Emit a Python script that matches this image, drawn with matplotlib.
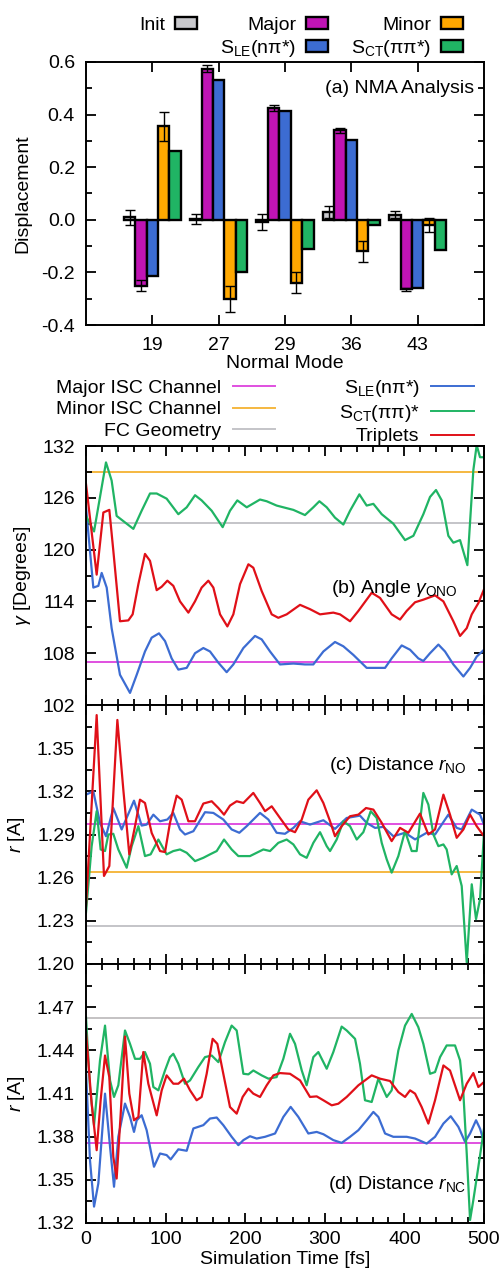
import numpy as np
import matplotlib as mpl
mpl.use('Agg')
from matplotlib import pyplot as plt
from matplotlib.patches import Patch
from matplotlib.lines import Line2D
from matplotlib.ticker import MultipleLocator

plt.rcParams['font.family'] = ['Liberation Sans', 'DejaVu Sans']
plt.rcParams['mathtext.fontset'] = 'custom'
plt.rcParams['mathtext.rm'] = 'Liberation Sans'
plt.rcParams['mathtext.it'] = 'Liberation Sans:italic'
plt.rcParams['font.size'] = 14
plt.rcParams['axes.unicode_minus'] = False

# ---- (a) NMA data
modes = ['19', '27', '29', '36', '43']
init_disp = [0.01, 0.003, -0.007, 0.03, 0.02]
init_err = [0.028, 0.02, 0.03, 0.024, 0.013]
major_disp = [-0.25, 0.575, 0.425, 0.34, -0.265]
major_err = [0.022, 0.012, 0.01, 0.01, 0.005]
sle_disp = [-0.215, 0.53, 0.415, 0.305, -0.26]
minor_disp = [0.355, -0.30, -0.24, -0.12, -0.02]
minor_err = [0.055, 0.05, 0.04, 0.04, 0.025]
sct_disp = [0.26, -0.20, -0.11, -0.02, -0.115]

# ---- (b) angle gamma_ONO
t_b_sle = [0, 9.2, 15.5, 19.7, 26.0, 32.2, 42.7, 55.3, 63.7, 74.1, 82.5, 91.7, 99.3, 107.6, 116.0, 126.5,
           137.0, 147.4, 155.8, 166.3, 176.7, 185.1, 197.7, 212.3, 220.7, 231.2, 243.7, 260.5, 275.1, 285.6,
           298.2, 312.8, 323.3, 335.9, 352.6, 365.2, 375.7, 384.0, 396.6, 407.1, 417.5, 423.8, 432.2, 442.7,
           451.0, 461.5, 474.1, 482.5, 490.8, 500]
ang_sle = [124.9, 115.6, 115.8, 117.3, 115.6, 110.9, 105.5, 103.4, 105.5, 108.2, 109.8, 110.3, 109.4, 107.4,
           106.1, 106.3, 108.0, 108.6, 108.2, 106.9, 105.8, 106.7, 108.6, 110.0, 109.6, 108.2, 106.7, 106.8,
           106.7, 106.7, 108.2, 109.3, 108.8, 107.8, 106.3, 106.3, 106.3, 107.4, 108.9, 108.4, 107.4, 107.1,
           108.0, 109.0, 108.2, 106.7, 105.3, 106.3, 107.6, 108.4]
t_b_sct = [0, 10.1, 25.1, 32.2, 38.5, 46.9, 59.5, 69.9, 80.4, 88.8, 101.3, 116.0, 126.5, 137.0, 145.3, 157.9,
           171.7, 180.9, 190.1, 201.9, 218.6, 227.0, 239.5, 260.5, 275.1, 285.6, 293.2, 302.4, 312.8, 323.3,
           331.7, 343.4, 352.6, 361.0, 371.5, 386.1, 400.8, 411.3, 423.8, 432.2, 439.7, 446.9, 455.2, 461.5,
           469.9, 479.1, 486.6, 490.8, 495.0, 500]
ang_sct = [123.9, 122.1, 130.1, 128.0, 123.9, 123.3, 122.4, 124.5, 126.5, 126.5, 125.9, 124.1, 124.9, 126.3,
           125.7, 124.5, 122.6, 124.5, 125.7, 124.9, 125.8, 125.6, 125.1, 124.6, 124.0, 124.9, 125.6, 124.9,
           123.7, 122.9, 124.5, 126.4, 125.1, 125.3, 124.1, 123.0, 121.1, 121.6, 124.1, 126.1, 126.9, 125.7,
           121.6, 120.8, 121.1, 118.2, 129.2, 132.1, 130.7, 130.7]
t_b_trip = [0, 13.4, 21.8, 29.3, 34.3, 42.7, 53.2, 58.6, 65.8, 74.1, 80.4, 88.8, 95.1, 102.2, 109.7, 118.1,
            128.6, 136.9, 145.3, 153.7, 160.0, 168.4, 177.6, 185.1, 193.5, 204.0, 210.2, 220.7, 233.3, 241.6,
            252.1, 268.9, 281.4, 294.0, 310.7, 319.1, 331.7, 342.2, 358.9, 369.4, 384.0, 394.5, 402.9, 413.4,
            423.8, 438.5, 449.0, 461.5, 469.9, 478.3, 484.6, 492.9, 500]
ang_trip = [127.6, 117.1, 124.3, 124.6, 119.9, 111.7, 111.8, 112.5, 116.0, 119.5, 118.7, 115.3, 115.7, 116.4,
            115.8, 114.0, 112.7, 114.0, 115.6, 116.4, 115.6, 112.5, 111.1, 112.5, 116.0, 118.3, 117.9, 115.2,
            112.5, 112.1, 112.5, 113.6, 113.1, 112.5, 112.7, 112.5, 111.7, 112.9, 115.0, 114.4, 112.5, 111.9,
            112.9, 113.9, 114.2, 114.7, 114.0, 111.7, 110.0, 110.9, 112.5, 113.8, 115.4]

# ---- (c) distance r_NO
t_c_sle = [0, 9.2, 17.6, 25.1, 34.3, 44.8, 60.3, 69.9, 76.2, 84.6, 93.0, 102.2, 109.7, 118.1, 124.4, 134.9,
           149.5, 160.0, 172.5, 183.0, 192.6, 201.9, 218.6, 229.1, 239.5, 250.0, 260.5, 268.9, 281.4, 298.2,
           312.8, 327.5, 344.2, 352.6, 363.1, 373.6, 386.1, 400.8, 413.4, 428.0, 438.5, 455.2, 465.7, 472.0,
           484.6, 495.0, 500]
rno_sle = [1.3177, 1.3200, 1.2981, 1.2888, 1.3084, 1.2935, 1.3135, 1.2962, 1.2969, 1.3038, 1.2992, 1.3004,
           1.3050, 1.2935, 1.2900, 1.2923, 1.3055, 1.3050, 1.3004, 1.2935, 1.2912, 1.2958, 1.3050, 1.3004,
           1.2912, 1.2905, 1.2946, 1.2992, 1.2969, 1.2999, 1.2939, 1.3015, 1.3031, 1.2981, 1.2946, 1.2953,
           1.2888, 1.2912, 1.2866, 1.2912, 1.2900, 1.3038, 1.2946, 1.2935, 1.3073, 1.3038, 1.2969]
t_c_sct = [0, 7.1, 13.4, 18.4, 23.9, 28.1, 34.3, 40.6, 51.1, 57.4, 65.8, 74.1, 81.2, 90.9, 101.3, 109.7, 118.1,
           126.5, 137.0, 147.4, 155.8, 164.2, 173.4, 183.0, 191.4, 206.0, 214.4, 222.8, 231.2, 241.6, 252.1,
           260.5, 268.9, 277.2, 285.6, 294.0, 302.4, 306.6, 314.9, 323.3, 331.7, 340.1, 348.4, 357.7, 365.2,
           371.5, 377.8, 384.0, 392.4, 400.8, 409.2, 415.4, 423.8, 430.1, 436.4, 442.7, 449.0, 453.1, 459.4,
           465.7, 472.0, 478.3, 484.6, 490.0, 495.0, 500]
rno_sct = [1.2358, 1.2819, 1.3062, 1.2796, 1.2785, 1.2900, 1.2905, 1.2796, 1.2669, 1.2819, 1.2958, 1.2750,
           1.2762, 1.2865, 1.2762, 1.2785, 1.2796, 1.2773, 1.2715, 1.2738, 1.2762, 1.2785, 1.2865, 1.2796,
           1.2750, 1.2750, 1.2773, 1.2796, 1.2785, 1.2842, 1.2865, 1.2831, 1.2762, 1.2738, 1.2842, 1.2916,
           1.2819, 1.2785, 1.2865, 1.2992, 1.2958, 1.2865, 1.2916, 1.3062, 1.3015, 1.2842, 1.2727, 1.2635,
           1.2750, 1.2923, 1.2785, 1.2785, 1.3189, 1.3108, 1.2900, 1.2819, 1.2831, 1.2796, 1.2623, 1.2681,
           1.2542, 1.2011, 1.2554, 1.2312, 1.2450, 1.2912]
t_c_trip = [0, 13.4, 22.6, 29.3, 39.4, 46.9, 54.4, 61.6, 67.8, 74.1, 82.5, 93.0, 99.3, 105.5, 113.9, 120.2,
            128.6, 136.9, 147.4, 157.9, 166.3, 173.4, 180.9, 189.3, 197.7, 210.2, 218.6, 224.9, 233.3, 243.7,
            254.2, 262.6, 271.0, 279.3, 289.8, 298.2, 306.6, 312.8, 321.2, 331.7, 342.2, 351.8, 361.0, 371.5,
            384.0, 394.5, 405.0, 419.6, 430.1, 438.5, 449.0, 457.3, 465.7, 474.1, 482.5, 490.8, 500]
rno_trip = [1.2404, 1.3730, 1.2612, 1.2681, 1.3696, 1.3211, 1.2762, 1.2958, 1.3142, 1.3119, 1.2911, 1.2785,
            1.2778, 1.2981, 1.3170, 1.3142, 1.2992, 1.2992, 1.3115, 1.3131, 1.3084, 1.3038, 1.3101, 1.3131,
            1.3119, 1.3189, 1.3119, 1.3062, 1.3096, 1.3015, 1.2935, 1.2916, 1.3004, 1.3142, 1.3207, 1.3119,
            1.2992, 1.2888, 1.2958, 1.3027, 1.3038, 1.3084, 1.3073, 1.2981, 1.2854, 1.2946, 1.2912, 1.3045,
            1.2900, 1.2935, 1.3177, 1.3038, 1.2877, 1.2935, 1.3038, 1.2958, 1.2888]

# ---- (d) distance r_NC
t_d_sle = [0, 5.0, 10.1, 15.5, 23.9, 30.2, 35.2, 40.6, 49.0, 55.3, 60.3, 63.7, 69.9, 76.2, 85.4, 93.0, 101.3,
           106.4, 116.0, 126.5, 134.9, 147.4, 155.8, 164.2, 172.5, 183.0, 191.4, 197.7, 206.0, 214.4, 224.9,
           237.5, 247.9, 257.1, 266.8, 279.3, 289.8, 298.2, 310.7, 321.2, 331.7, 342.2, 352.6, 361.0, 367.3,
           375.7, 386.1, 402.9, 413.4, 428.0, 438.5, 449.0, 458.2, 467.8, 476.2, 482.5, 490.0, 495.0, 500]
rnc_sle = [1.4260, 1.3637, 1.3314, 1.3475, 1.4099, 1.3730, 1.3452, 1.3799, 1.4030, 1.3937, 1.3833, 1.3914,
           1.3949, 1.3845, 1.3591, 1.3683, 1.3672, 1.3642, 1.3712, 1.3702, 1.3857, 1.3880, 1.3926, 1.3933,
           1.3880, 1.3799, 1.3741, 1.3776, 1.3803, 1.3787, 1.3799, 1.3822, 1.3937, 1.4007, 1.3937, 1.3822,
           1.3833, 1.3817, 1.3776, 1.3757, 1.3799, 1.3845, 1.3914, 1.3972, 1.3937, 1.3822, 1.3799, 1.3799,
           1.3787, 1.3752, 1.3799, 1.3891, 1.3942, 1.3868, 1.3764, 1.3822, 1.3914, 1.3856, 1.3764]
t_d_sct = [0, 5.0, 10.1, 17.6, 23.9, 30.2, 35.2, 40.6, 49.0, 55.3, 61.6, 67.8, 74.1, 80.4, 84.6, 90.9, 99.3,
           105.5, 109.7, 116.0, 124.4, 130.7, 141.1, 149.5, 157.9, 166.3, 174.6, 183.0, 189.3, 197.7, 204.0,
           210.2, 220.7, 229.1, 239.5, 247.9, 256.3, 262.6, 271.0, 277.2, 285.6, 291.9, 302.4, 310.7, 321.2,
           327.5, 338.0, 344.2, 350.5, 358.9, 367.3, 377.8, 384.0, 392.4, 400.8, 409.2, 417.5, 423.8, 432.2,
           438.5, 444.8, 453.1, 463.6, 469.9, 474.1, 478.3, 482.5, 486.6, 492.9, 500]
rnc_sct = [1.4630, 1.4145, 1.3879, 1.4330, 1.4572, 1.4191, 1.4076, 1.4157, 1.4538, 1.4445, 1.4341, 1.4341,
           1.4388, 1.4307, 1.4145, 1.4122, 1.4261, 1.4353, 1.4376, 1.4307, 1.4168, 1.4191, 1.4284, 1.4353,
           1.4364, 1.4318, 1.4457, 1.4572, 1.4538, 1.4237, 1.4233, 1.4260, 1.4226, 1.4203, 1.4214, 1.4341,
           1.4515, 1.4445, 1.4261, 1.4157, 1.4353, 1.4388, 1.4272, 1.4388, 1.4565, 1.4538, 1.4480, 1.4307,
           1.4053, 1.4041, 1.4203, 1.4076, 1.4122, 1.4399, 1.4572, 1.4653, 1.4561, 1.4445, 1.4237, 1.4249,
           1.4353, 1.4434, 1.4434, 1.4330, 1.4099, 1.3683, 1.3221, 1.3359, 1.3590, 1.3856]
t_d_trip = [0, 7.1, 13.4, 18.4, 23.9, 29.3, 34.3, 38.5, 43.6, 49.0, 54.4, 60.3, 65.8, 72.0, 78.3, 88.8, 95.1,
            101.3, 109.7, 116.0, 123.1, 130.7, 139.0, 145.3, 151.6, 159.1, 165.0, 172.5, 180.9, 189.3, 196.8,
            204.0, 210.2, 218.6, 227.0, 235.4, 243.7, 256.3, 268.9, 281.4, 289.8, 298.2, 308.7, 317.0, 327.5,
            342.2, 358.9, 369.4, 381.9, 392.4, 400.8, 407.1, 413.4, 421.7, 430.1, 438.5, 449.0, 457.3, 469.9,
            478.3, 486.6, 492.9, 500]
rnc_trip = [1.4526, 1.4029, 1.3706, 1.4053, 1.4364, 1.4214, 1.3660, 1.3509, 1.3960, 1.4496, 1.4099, 1.3914,
            1.3937, 1.4388, 1.4168, 1.3948, 1.4122, 1.4226, 1.4168, 1.4168, 1.4203, 1.4122, 1.4053, 1.4076,
            1.4237, 1.4480, 1.4445, 1.4237, 1.4006, 1.3960, 1.4076, 1.4134, 1.4099, 1.4076, 1.4157, 1.4226,
            1.4242, 1.4237, 1.4191, 1.4076, 1.4080, 1.4053, 1.4018, 1.4029, 1.4076, 1.4157, 1.4226, 1.4203,
            1.4187, 1.4110, 1.4076, 1.4122, 1.4099, 1.4006, 1.3891, 1.4053, 1.4295, 1.4260, 1.4053, 1.4168,
            1.4242, 1.4145, 1.4180]

# reference geometries (major ISC, minor ISC, FC) per panel
ref_b = [107.0, 129.0, 123.1]
ref_c = [1.2975, 1.264, 1.2262]
ref_d = [1.3755, 1.4628, 1.4628]

c_init, c_major, c_sle, c_minor, c_sct = '#c8c8cc', '#c014b4', '#3c6cd2', '#ffa800', '#20b464'
c_trip = '#e01018'
l_major, l_minor, l_fc = '#e050e0', '#f5b840', '#c4c4c8'

fig = plt.figure(figsize=(5.01, 12.72), dpi=100)
W, H = 501., 1272.


def add_ax(top, bot):
    return fig.add_axes([86 / W, 1 - bot / H, 398 / W, (bot - top) / H])


def style(ax):
    for s in ax.spines.values():
        s.set_linewidth(1.4)
    ax.tick_params(which='both', direction='in', top=True, right=True, width=1.3)
    ax.tick_params(which='major', length=7.5)
    ax.tick_params(which='minor', length=4.5)
    ax.tick_params(axis='y', which='major', pad=8)


# ---- panel (a)
ax = add_ax(62, 325)
x = np.arange(1, len(modes) + 1)
w = 0.172
series = [(init_disp, c_init, init_err, 'Init'), (major_disp, c_major, major_err, 'Major'),
          (sle_disp, c_sle, None, r'S$_{\mathrm{LE}}$(nπ*)'), (minor_disp, c_minor, minor_err, 'Minor'),
          (sct_disp, c_sct, None, r'S$_{\mathrm{CT}}$(ππ*)')]
handles = {}
for k, (vals, col, err, lab) in enumerate(series):
    pos = x + (k - 2) * w
    ax.bar(pos, vals, width=w, color=col, edgecolor='black', linewidth=1.7, zorder=2)
    if err is not None:
        ax.errorbar(pos, vals, yerr=err, fmt='none', ecolor='black', elinewidth=1.0,
                    capsize=3.5, capthick=1.0, zorder=3)
    handles[lab] = Patch(facecolor=col, edgecolor='black', linewidth=1.7, label=lab)
ax.set_xlim(0, 6)
ax.set_ylim(-0.4, 0.6)
ax.set_xticks(x)
ax.set_xticklabels(modes)
ax.yaxis.set_major_locator(MultipleLocator(0.2))
ax.yaxis.set_minor_locator(MultipleLocator(0.1))
ax.yaxis.set_major_formatter(mpl.ticker.FormatStrFormatter('%.1f'))
style(ax)
ax.tick_params(axis='x', pad=9)
ax.set_ylabel('Displacement', labelpad=7)
ax.set_xlabel('Normal Mode', labelpad=0)
ax.text(0.975, 0.9, '(a) NMA Analysis', transform=ax.transAxes, ha='right', va='center')

blank = Patch(facecolor='none', edgecolor='none', label=' ')
leg_h = [handles['Init'], blank, handles['Major'], handles[r'S$_{\mathrm{LE}}$(nπ*)'],
         handles['Minor'], handles[r'S$_{\mathrm{CT}}$(ππ*)']]
fig.legend(handles=leg_h, ncol=3, markerfirst=False, frameon=False, loc='upper right',
           bbox_to_anchor=(463 / W, 1 - 17 / H), borderpad=0, borderaxespad=0,
           handlelength=1.13, handleheight=0.55, handletextpad=0.5, columnspacing=1.2,
           labelspacing=0.2)

# ---- line legend
line_h = [Line2D([], [], color=l_major, lw=1.4, label='Major ISC Channel'),
          Line2D([], [], color=l_minor, lw=1.4, label='Minor ISC Channel'),
          Line2D([], [], color=l_fc, lw=1.4, label='FC Geometry'),
          Line2D([], [], color=c_sle, lw=1.4, label=r'S$_{\mathrm{LE}}$(nπ*)'),
          Line2D([], [], color=c_sct, lw=1.4, label=r'S$_{\mathrm{CT}}$(ππ)*'),
          Line2D([], [], color=c_trip, lw=1.4, label='Triplets')]
fig.legend(handles=line_h, ncol=2, markerfirst=False, frameon=False, loc='upper right',
           bbox_to_anchor=(474 / W, 1 - 378 / H), borderpad=0, borderaxespad=0,
           handlelength=2.2, handletextpad=0.6, columnspacing=3.25, labelspacing=0.2)

# ---- panels (b)-(d)
panels = [
    (446, 705, (102, 132), 6, 3, ref_b,
     [(t_b_sle, ang_sle, c_sle), (t_b_sct, ang_sct, c_sct), (t_b_trip, ang_trip, c_trip)],
     r'$\gamma$ [Degrees]', r'(b) Angle $\gamma_{\mathrm{ONO}}$', (0.935, 0.45), '%d', True),
    (705, 964, (1.20, 1.38), 0.03, 0.015, ref_c,
     [(t_c_sle, rno_sle, c_sle), (t_c_sct, rno_sct, c_sct), (t_c_trip, rno_trip, c_trip)],
     r'$r$ [A]', r'(c) Distance $r_{\mathrm{NO}}$', (0.957, 0.765), '%.2f', False),
    (964, 1223, (1.32, 1.50), 0.03, 0.015, ref_d,
     [(t_d_sle, rnc_sle, c_sle), (t_d_sct, rnc_sct, c_sct), (t_d_trip, rnc_trip, c_trip)],
     r'$r$ [A]', r'(d) Distance $r_{\mathrm{NC}}$', (0.955, 0.15), '%.2f', False),
]
for i, (top, bot, ylim, maj, mnr, refs, lines, ylab, tag, tpos, fmt, label_top) in enumerate(panels):
    ax = add_ax(top, bot)
    for val, col in zip(refs, [l_major, l_minor, l_fc]):
        ax.axhline(val, color=col, lw=1.4, zorder=1)
    for tt, vv, col in lines:
        ax.plot(tt, vv, color=col, lw=1.6, zorder=2)
    ax.set_xlim(0, 500)
    ax.set_ylim(*ylim)
    ax.xaxis.set_major_locator(MultipleLocator(100))
    ax.xaxis.set_minor_locator(MultipleLocator(20))
    stop = ylim[1] + maj / 2 if label_top else ylim[1] - maj / 2
    ax.set_yticks(np.round(np.arange(ylim[0], stop, maj), 3))
    ax.yaxis.set_minor_locator(MultipleLocator(mnr))
    ax.yaxis.set_major_formatter(mpl.ticker.FormatStrFormatter(fmt))
    style(ax)
    ax.set_ylabel(ylab, labelpad=7)
    ax.text(tpos[0], tpos[1], tag, transform=ax.transAxes, ha='right', va='center')
    if i < 2:
        ax.tick_params(labelbottom=False)
    else:
        ax.tick_params(axis='x', pad=6)
        ax.set_xlabel('Simulation Time [fs]', labelpad=2)

fig.savefig('out.png', dpi=100)
